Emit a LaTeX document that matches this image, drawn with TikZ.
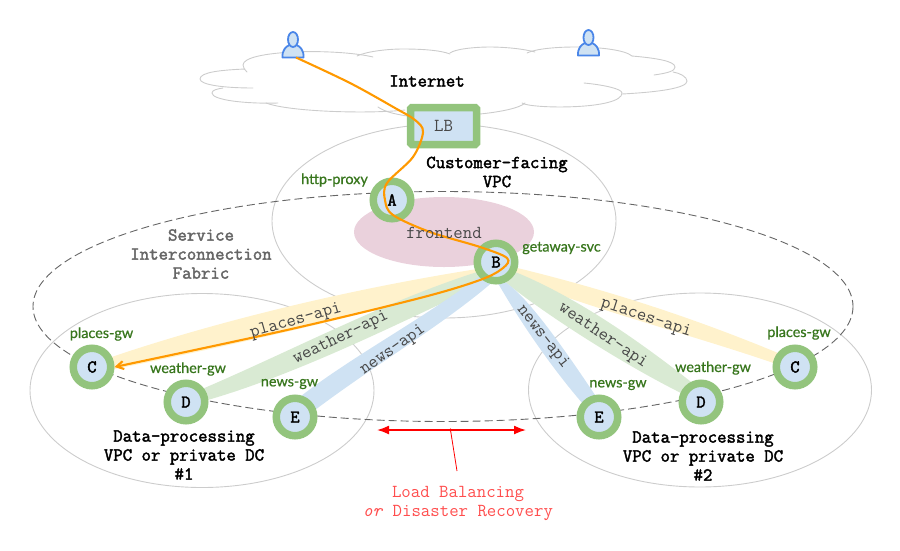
\documentclass[tikz,border=0pt]{standalone}
\usepackage{fontspec}
\setmonofont{Latin Modern Mono}
\newfontfamily\heavymono[FakeBold=2.2]{Latin Modern Mono}
\newfontfamily\gwfont[FakeBold=0.7]{Lato}
\usetikzlibrary{arrows.meta}
\definecolor{ring}{HTML}{93C47D}
\definecolor{paleblue}{HTML}{CFE2F3}
\definecolor{paleyellow}{HTML}{FFF2CC}
\definecolor{palegreen}{HTML}{D9EAD3}
\definecolor{palepink}{HTML}{EAD1DC}
\definecolor{labgreen}{HTML}{38761D}
\definecolor{routeorange}{HTML}{FF9900}
\definecolor{userblue}{HTML}{4A86E8}
\definecolor{softline}{HTML}{CCCCCC}
\definecolor{dashline}{HTML}{666666}
\definecolor{softred}{HTML}{FF4D4D}
\tikzset{
  mono/.style={font=\ttfamily\fontsize{18.3}{19}\selectfont},
  title/.style={font=\heavymono\fontsize{18.3}{19}\selectfont,align=center,text=black},
  beamlabel/.style={mono,text=black!72,inner sep=0pt},
  svc/.style={circle,draw=ring,fill=paleblue,line width=7.5pt,minimum size=37.5pt,inner sep=0pt,text=black,font=\heavymono\fontsize{18}{18}\selectfont},
  gw/.style={font=\gwfont\fontsize{14.4}{15}\selectfont,text=labgreen,inner sep=0pt},
  softell/.style={draw=softline,line width=0.9pt},
  cloudline/.style={draw=softline,line width=0.9pt,line cap=round},
  userbody/.style={draw=userblue,fill=paleblue,line width=1.8pt,line join=round},
}
\begin{document}
\begin{tikzpicture}[x=1pt,y=-1pt]
\useasboundingbox (0,0) rectangle (900,550);
% cloud
\draw[cloudline] (373,57) .. controls (335,48) and (243,50) .. (243,65) .. controls (243,68) and (245,70) .. (247,72);
\draw[cloudline] (245,69) .. controls (222,70) and (200,72) .. (200,79) .. controls (200,85) and (225,88) .. (253,88);
\draw[cloudline] (223,88) .. controls (217,89) and (212,90) .. (212,93) .. controls (212,100) and (245,104) .. (278,103);
\draw[cloudline] (266,103) .. controls (290,112) and (370,114) .. (405,110);
\draw[cloudline] (378,107) .. controls (385,112) and (395,114) .. (407,116) -- (480,114) .. controls (500,112) and (520,108) .. (525,103);
\draw[cloudline] (522,103) .. controls (530,109) and (622,110) .. (622,93) .. controls (622,89) and (605,85) .. (584,83);
\draw[cloudline] (622,94) .. controls (660,92) and (687,88) .. (687,81) .. controls (687,77) and (680,73) .. (673,72);
\draw[cloudline] (654,75) .. controls (668,73) and (675,71) .. (675,67) .. controls (675,61) and (655,58) .. (632,56);
\draw[cloudline] (632,56) .. controls (625,50) and (600,47) .. (575,47) .. controls (555,47) and (535,49) .. (527,53);
\draw[cloudline] (535,52) .. controls (520,48) and (500,47) .. (490,47) .. controls (475,47) and (455,49) .. (450,53);
\draw[cloudline] (450,54) .. controls (440,50) and (420,49) .. (403,49) .. controls (385,49) and (365,52) .. (357,56);
% regions
\draw[softell] (444,221) ellipse [x radius=172,y radius=97];
\draw[softell] (202,390.5) ellipse [x radius=172,y radius=97];
\draw[softell] (700,390) ellipse [x radius=171.5,y radius=97];
\draw[draw=dashline,line width=0.9pt,dash pattern=on 8pt off 4pt] (443,306.5) ellipse [x radius=410,y radius=115];
\fill[palepink] (444,232) ellipse [x radius=90,y radius=35];
% tapered beams
\fill[paleyellow] (100,361) .. controls (180,333) and (320,293) .. (490,267) -- (492,276) .. controls (400,307) and (250,342) .. (100,372) -- cycle;
\fill[paleyellow] (505,265) .. controls (610,290) and (700,320) .. (790,358) -- (785,367) .. controls (700,337) and (600,312) .. (505,275) -- cycle;
\fill[palegreen] (195,392) .. controls (290,352) and (390,298) .. (490,268) -- (495,278) .. controls (400,323) and (290,378) .. (197,403) -- cycle;
\fill[palegreen] (505,268) .. controls (572,293) and (642,343) .. (695,385) -- (685,395) .. controls (628,367) and (548,317) .. (500,278) -- cycle;
\fill[paleblue] (285,409) .. controls (340,362) and (420,322) .. (488,270) -- (495,280) .. controls (440,328) and (362,372) .. (297,424) -- cycle;
\fill[paleblue] (495,278) .. controls (517,280) and (562,345) .. (605,410) -- (590,412) .. controls (548,365) and (513,310) .. (495,278) -- cycle;
% services
\node[svc] (A) at (392,200) {A};
\node[svc] (B) at (496,262) {B};
\node[svc] (C1) at (92,367) {C};
\node[svc] (D1) at (186,402) {D};
\node[svc] (E1) at (295,417) {E};
\node[svc] (E2) at (599,417) {E};
\node[svc] (D2) at (701,402) {D};
\node[svc] (C2) at (795,367) {C};
% LB
\node[draw=ring,fill=paleblue,line width=7.5pt,rounded corners=1.5pt,minimum width=66pt,minimum height=37pt,inner sep=0pt,mono,text=black!72] (LB) at (443.5,126) {LB};
% users
\foreach \n/\ux/\uy in {U1/293/0,U2/588.5/-2}{
  \begin{scope}[shift={(\ux,\uy)}]
  \draw[userbody] (-10.5,57.5) .. controls (-11,50) and (-7,46.5) .. (-3.5,45) -- (3.5,45) .. controls (7,46.5) and (11,50) .. (10.5,57.5) -- cycle;
  \draw[userbody] (0,39.5) ellipse [x radius=5,y radius=7.5];
  \end{scope}
}
\coordinate (start) at (296,57.5);
% route
\draw[routeorange,line width=2.1pt,-{Straight Barb[length=7pt,width=8pt]}]
  plot[smooth,tension=0.55] coordinates {(start)(350,83)(395,108)(415,120)(423,132)(413,157)(387,183)(385,200)(393,215)(430,232)(480,247)(507,258)(503,268)(480,280)(420,298)(287,330)(C1.east)};
% red marker
\coordinate (redfoot) at (457,471);
\coordinate (redl) at (377,430);
\coordinate (redr) at (526,430);
\coordinate (redm) at (450.5,430);
\draw[red,line width=1.6pt,{Latex[length=12pt,width=9pt]}-{Latex[length=12pt,width=9pt]}] (redl) -- (redr);
\draw[red,line width=0.8pt] (redm) -- (redfoot);
\fill[red] (redm) circle (1.7);
% titles
\node[title] (internet) at (427,81) {Internet};
\node[title] (cust) at (497,172) {Customer-facing\\VPC};
\node[title,text=dashline] (fabric) at (201,254) {Service\\Interconnection\\Fabric};
\node[title] (dp1) at (184,455) {Data-processing\\VPC or private DC\\\#1};
\node[title] (dp2) at (703,456) {Data-processing\\VPC or private DC\\\#2};
\node[mono,text=black!72] (fe) at (444,233) {frontend};
\node[mono,text=softred,align=center] (lbtext) at (458,503) {Load Balancing\\\textit{or} Disaster Recovery};
% beam labels
\node[beamlabel,rotate=16] (l1) at (296,321) {places-api};
\node[beamlabel,rotate=26] (l2) at (341,338) {weather-api};
\node[beamlabel,rotate=35] (l3) at (393,350) {news-api};
\node[beamlabel,rotate=-18] (l4) at (646,318) {places-api};
\node[beamlabel,rotate=-34] (l5) at (603,336) {weather-api};
\node[beamlabel,rotate=-52] (l6) at (543,337) {news-api};
% service labels
\node[gw] (g1) at (334.5,180) {http-proxy};
\node[gw] (g2) at (561.5,248) {getaway-svc};
\node[gw] (g3) at (101.5,334) {places-gw};
\node[gw] (g4) at (188,369) {weather-gw};
\node[gw] (g5) at (289.5,384) {news-gw};
\node[gw] (g6) at (618,385) {news-gw};
\node[gw] (g7) at (713,368) {weather-gw};
\node[gw] (g8) at (799,333) {places-gw};
\end{tikzpicture}
\end{document}
